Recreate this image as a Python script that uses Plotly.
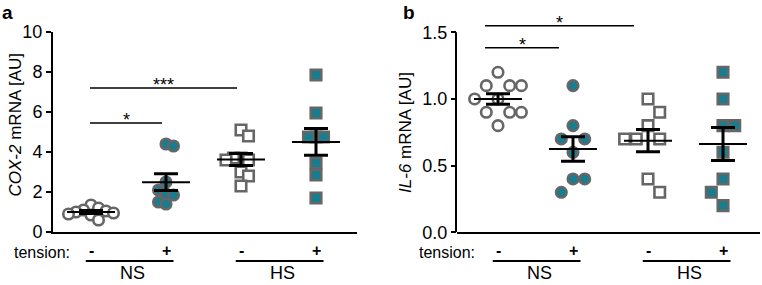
import plotly.graph_objects as go
import numpy as np

# ---------------- data ----------------
group_names = ["NS -", "NS +", "HS -", "HS +"]
tension_labels = ["-", "+", "-", "+"]
salt_labels = ["NS", "HS"]

cox2_ns_minus = [1.35, 1.2, 1.1, 1.05, 1.0, 0.95, 0.9, 0.85, 0.6]
cox2_ns_plus = [4.4, 4.3, 2.5, 2.1, 1.9, 1.85, 1.5, 1.4]
cox2_hs_minus = [5.1, 4.8, 3.7, 3.7, 3.6, 3.6, 3.0, 2.8, 2.3]
cox2_hs_plus = [7.85, 5.95, 4.75, 4.75, 4.75, 3.45, 2.85, 1.7]

il6_ns_minus = [1.2, 1.1, 1.1, 1.1, 1.0, 1.0, 0.9, 0.9, 0.9, 0.8]
il6_ns_plus = [1.1, 0.8, 0.7, 0.7, 0.6, 0.4, 0.4, 0.3]
il6_hs_minus = [1.0, 0.9, 0.8, 0.7, 0.7, 0.7, 0.4, 0.3]
il6_hs_plus = [1.2, 1.0, 0.8, 0.8, 0.6, 0.4, 0.3, 0.2]

# significance brackets: (from group, to group, height, label)
sig_cox2 = [(0, 1, 5.45, "*"), (0, 2, 7.2, "***")]
sig_il6 = [(0, 1, 1.385, "*"), (0, 2, 1.55, "*")]

cox2_ticks = [0, 2, 4, 6, 8, 10]
il6_ticks = [0, 0.5, 1.0, 1.5]
il6_ticktext = ["0.0", "0.5", "1.0", "1.5"]

# ---------------- style ----------------
TEAL = "#177d8f"
GRAY = "#666666"
FONT = "Liberation Sans, Arial, sans-serif"
W, H = 762, 285
PX_X = 75.0  # px per category unit


def swarm(vals, px_y, dx_min, dy_min):
    """Rectangular-collision beeswarm; returns x offsets in category units."""
    placed = []
    offs = [0.0] * len(vals)
    order = sorted(range(len(vals)), key=lambda i: -vals[i])
    flip = 1
    for i in order:
        y = vals[i] * px_y
        cands = [0.0]
        for xp, yp in placed:
            if abs(y - yp) < dy_min:
                cands += [xp + dx_min, xp - dx_min]
        cands = sorted(set(round(c, 6) for c in cands), key=lambda c: (abs(c), -flip * c))
        chosen = cands[-1]
        for c in cands:
            if all(not (abs(c - xp) < dx_min - 1e-6 and abs(y - yp) < dy_min)
                   for xp, yp in placed):
                chosen = c
                break
        if chosen != 0:
            flip = -flip
        placed.append((chosen, y))
        offs[i] = chosen / PX_X
    return offs


fig = go.Figure()


def add_panel(groups, xa, ya, px_y, sigs, sig_dx, dx_min, dy_min):
    styles = [
        dict(symbol="circle", color="white"),
        dict(symbol="circle", color=TEAL),
        dict(symbol="square", color="white"),
        dict(symbol="square", color=TEAL),
    ]
    for gi, vals in enumerate(groups):
        pos = gi + 1
        offs = swarm(vals, px_y, dx_min, dy_min)
        fig.add_trace(go.Scatter(
            x=[pos + o for o in offs], y=vals, mode="markers",
            xaxis=xa, yaxis=ya, showlegend=False, cliponaxis=False,
            marker=dict(symbol=styles[gi]["symbol"], size=10.5,
                        color=styles[gi]["color"],
                        line=dict(color=GRAY, width=2.6)),
        ))
    for gi, vals in enumerate(groups):
        pos = gi + 1
        arr = np.array(vals, dtype=float)
        m = arr.mean()
        sem = arr.std(ddof=1) / np.sqrt(len(arr))
        fig.add_trace(go.Scatter(
            x=[pos - 0.32, pos + 0.32], y=[m, m], mode="lines",
            xaxis=xa, yaxis=ya, showlegend=False,
            line=dict(color="black", width=2),
        ))
        fig.add_trace(go.Scatter(
            x=[pos], y=[m], mode="markers", xaxis=xa, yaxis=ya, showlegend=False,
            marker=dict(size=1, color="rgba(0,0,0,0)"),
            error_y=dict(type="data", array=[sem], visible=True,
                         color="black", thickness=3, width=12),
        ))
    for (g0, g1, h, lab) in sigs:
        x0 = g0 + 1 + sig_dx[0]
        x1 = g1 + 1 + sig_dx[1]
        fig.add_trace(go.Scatter(
            x=[x0, x1], y=[h, h], mode="lines", xaxis=xa, yaxis=ya,
            showlegend=False, line=dict(color="black", width=1.5),
        ))
        fig.add_annotation(
            x=(x0 + x1) / 2, y=h, xref=xa, yref=ya, text=lab, showarrow=False,
            yanchor="bottom", yshift=-9, font=dict(size=18, color="black", family=FONT),
        )


add_panel([cox2_ns_minus, cox2_ns_plus, cox2_hs_minus, cox2_hs_plus],
          "x", "y", 20.0, sig_cox2, (-0.013, -0.053), 7.5, 10)
add_panel([il6_ns_minus, il6_ns_plus, il6_hs_minus, il6_hs_plus],
          "x2", "y2", 133.33, sig_il6, (-0.173, -0.187), 11.7, 14)

axis_common = dict(showgrid=False, zeroline=False, automargin=False)

ya_dom = [1 - 232 / H, 1 - 32 / H]
yb_top_val = 1.65
yb_dom = [1 - 232.3 / H, 1 - (232.3 - yb_top_val * 133.33) / H]
xa_dom = [53 / W, 357 / W]
xb_dom = [457 / W, 760 / W]

fig.update_layout(
    template="none",
    width=W, height=H, margin=dict(l=0, r=0, t=0, b=0, pad=0),
    paper_bgcolor="white", plot_bgcolor="white", showlegend=False,
    hovermode=False,
    font=dict(family=FONT, color="black", size=17),
    xaxis=dict(domain=xa_dom, range=[(53 - 16) / PX_X, (357 - 16) / PX_X],
               showline=True, linewidth=2, linecolor="black", ticks="",
               showticklabels=False, anchor="y", **axis_common),
    yaxis=dict(domain=ya_dom, range=[0, 10], tickvals=cox2_ticks,
               showline=True, linewidth=2, linecolor="black", ticks="outside",
               ticklen=5, tickwidth=2, tickcolor="black", anchor="x",
               tickfont=dict(size=18, family=FONT), **axis_common),
    xaxis2=dict(domain=xb_dom, range=[(457 - 423) / PX_X, (760 - 423) / PX_X],
                showline=True, linewidth=2, linecolor="black", ticks="",
                showticklabels=False, anchor="y2", **axis_common),
    yaxis2=dict(domain=yb_dom, range=[0, yb_top_val], tickvals=il6_ticks,
                ticktext=il6_ticktext, showline=False, ticks="outside",
                ticklen=5, tickwidth=2, tickcolor="black", anchor="x2",
                tickfont=dict(size=18, family=FONT), **axis_common),
)

# y axis line for panel b (only up to 1.5)
fig.add_shape(type="line", xref="paper", yref="y2", x0=456 / W, x1=456 / W,
              y0=0, y1=il6_ticks[-1], line=dict(color="black", width=2))

# panel letters
fig.add_annotation(x=0 / W, y=1 - 12 / H, xref="paper", yref="paper", text="<b>a</b>",
                   showarrow=False, xanchor="left", yanchor="middle",
                   font=dict(size=19, family=FONT))
fig.add_annotation(x=401 / W, y=1 - 12 / H, xref="paper", yref="paper", text="<b>b</b>",
                   showarrow=False, xanchor="left", yanchor="middle",
                   font=dict(size=19, family=FONT))

# y titles
fig.add_annotation(x=15 / W, y=1 - 124.5 / H, xref="paper", yref="paper",
                   text="<i>COX-2</i> mRNA [AU]", textangle=-90, showarrow=False,
                   xanchor="center", yanchor="middle", font=dict(size=17, family=FONT))
fig.add_annotation(x=405.5 / W, y=1 - 132.5 / H, xref="paper", yref="paper",
                   text="<i>IL-6</i> mRNA [AU]", textangle=-90, showarrow=False,
                   xanchor="center", yanchor="middle", font=dict(size=17, family=FONT))

# tension labels and group brackets
for xa, tx in (("x", 41.5), ("x2", 446.5)):
    fig.add_annotation(x=tx / W, y=1 - 252 / H, xref="paper", yref="paper",
                       text="tension:", showarrow=False, xanchor="center",
                       yanchor="middle", font=dict(size=16, family=FONT))
    for gi, lab in enumerate(tension_labels):
        fig.add_annotation(x=gi + 1, y=1 - 250 / H, xref=xa, yref="paper",
                           text="<b>" + lab + "</b>", showarrow=False,
                           xanchor="center", yanchor="middle",
                           font=dict(size=16, family=FONT))
    for si, lab in enumerate(salt_labels):
        g0 = 2 * si + 1
        fig.add_shape(type="line", xref=xa, yref="paper", x0=g0 - 0.07, x1=g0 + 1.1,
                      y0=1 - 261 / H, y1=1 - 261 / H, line=dict(color="black", width=2))
        fig.add_annotation(x=g0 + 0.55, y=1 - 273 / H, xref=xa, yref="paper",
                           text=lab, showarrow=False, xanchor="center",
                           yanchor="middle", font=dict(size=18, family=FONT))

fig.write_html("out.html", config={"displayModeBar": False, "staticPlot": True},
               post_script="document.body.style.margin='0px';document.body.style.overflow='hidden';")
